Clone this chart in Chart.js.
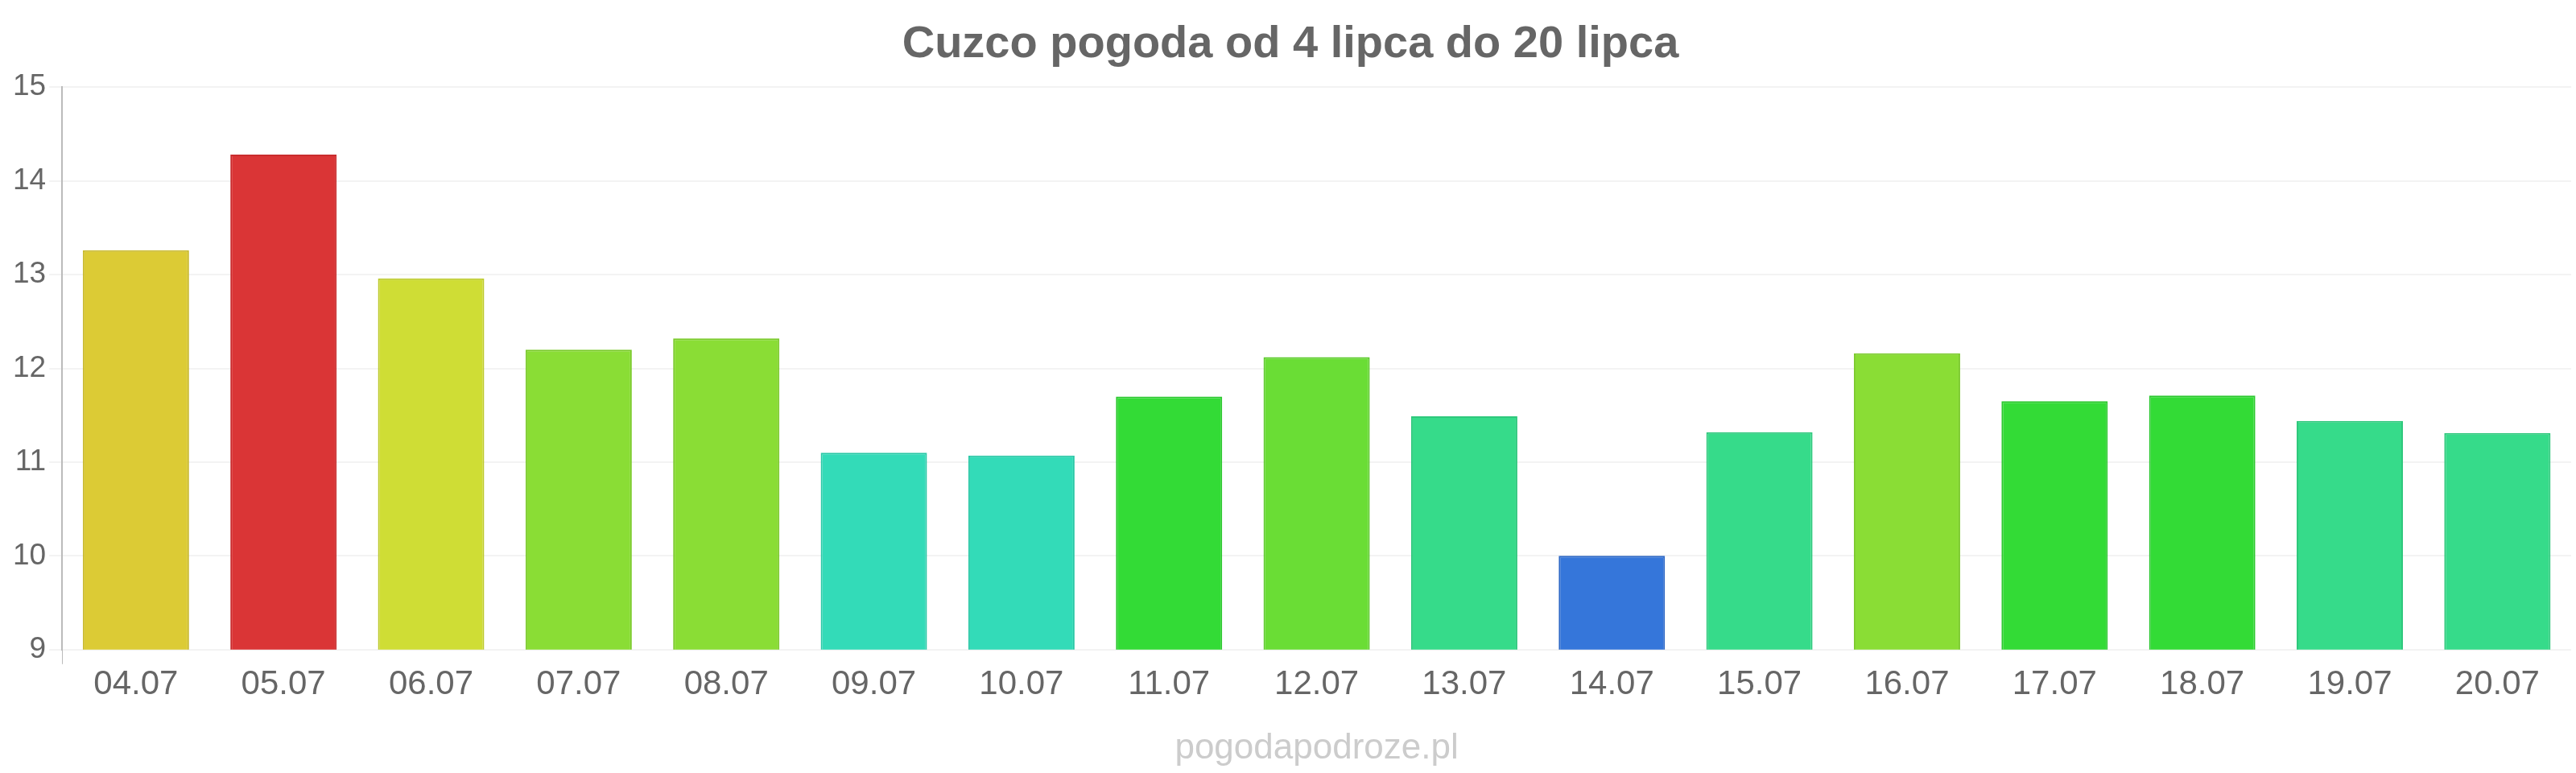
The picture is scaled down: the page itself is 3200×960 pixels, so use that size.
<!DOCTYPE html>
<html>
<head>
<meta charset="utf-8">
<script src="https://cdn.jsdelivr.net/npm/chart.js@4.4.1/dist/chart.umd.min.js"></script>
<style>
  body { margin: 0; background: #fff; }
  #wrap { width: 3200px; height: 960px; }
</style>
</head>
<body>
<div id="wrap"><canvas id="weatherChart" width="3200" height="960"></canvas></div>
<script>
const days = ["04.07", "05.07", "06.07", "07.07", "08.07", "09.07", "10.07", "11.07", "12.07",
              "13.07", "14.07", "15.07", "16.07", "17.07", "18.07", "19.07", "20.07"];
const temps = [13.26, 14.28, 12.96, 12.2, 12.32, 11.1, 11.07, 11.7, 12.12,
               11.49, 10.0, 11.32, 12.16, 11.65, 11.71, 11.44, 11.31];
const barColors = ["#dccb35", "#da3536", "#cfdd35", "#8add35", "#8add35", "#33dbb8", "#33dbb8", "#33db36", "#6add35",
                   "#36db8a", "#3576da", "#36db8a", "#8add35", "#33db36", "#33db36", "#36db8a", "#36db8a"];
const borderColors = ["#c9b92c", "#c92c2d", "#bdca2c", "#7bca2c", "#7bca2c", "#2bc8a7", "#2bc8a7", "#2bc82e", "#5dca2c",
                      "#2ec87c", "#2d68c6", "#2ec87c", "#7bca2c", "#2bc82e", "#2bc82e", "#2ec87c", "#2ec87c"];
const yTicks = [9, 10, 11, 12, 13, 14, 15];

const font = "'Liberation Sans', Arial, sans-serif";

new Chart(document.getElementById("weatherChart"), {
    type: "bar",
    data: {
        labels: days,
        datasets: [{
            data: temps,
            backgroundColor: barColors,
            borderColor: borderColors,
            borderWidth: 2
        }]
    },
    options: {
        responsive: false,
        animation: false,
        layout: { padding: { left: 12, right: 6, top: 0, bottom: 0 } },
        plugins: {
            legend: { display: false },
            tooltip: { enabled: false },
            title: {
                display: true,
                text: "Cuzco pogoda od 4 lipca do 20 lipca",
                color: "#666",
                font: { family: font, size: 56, weight: "bold" },
                padding: { top: 22, bottom: 19 }
            }
        },
        scales: {
            x: {
                offset: true,
                grid: {
                    drawOnChartArea: false,
                    tickLength: 18,
                    color: function(ctx) { return ctx.index === 0 ? "#bbb" : "rgba(0,0,0,0)"; }
                },
                border: { display: false },
                ticks: { color: "#666", font: { family: font, size: 42 }, padding: 0 },
                title: {
                    display: true,
                    text: "pogodapodroze.pl",
                    color: "#ccc",
                    font: { family: font, size: 44 },
                    padding: { top: 28, bottom: 4 }
                }
            },
            y: {
                min: 9,
                max: 15,
                afterBuildTicks: function(axis) { axis.ticks = yTicks.map(v => ({ value: v })); },
                grid: { color: "#f3f3f3", lineWidth: 2, tickLength: 16 },
                border: { display: true, color: "#bbb", width: 2 },
                ticks: { color: "#666", font: { family: font, size: 37 }, padding: 4 }
            }
        }
    }
});
</script>
</body>
</html>
